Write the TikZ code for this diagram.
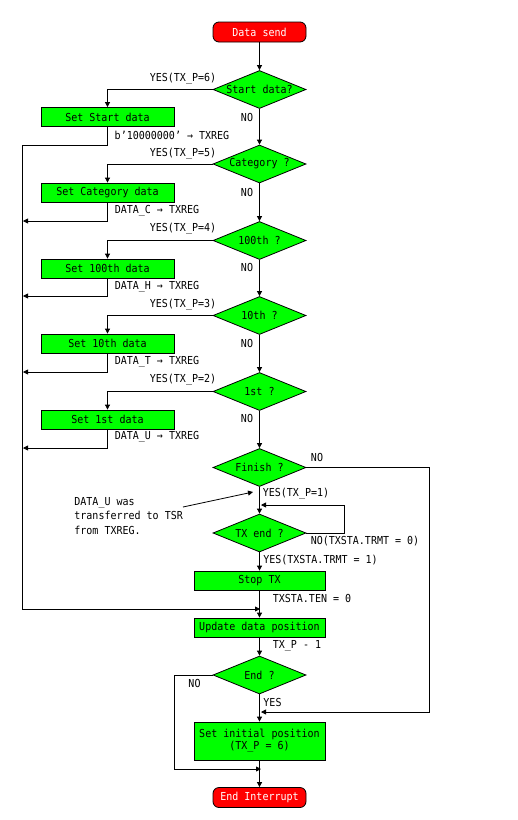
\documentclass[tikz,border=0pt]{standalone}
\usepackage{fontspec}
\setmonofont[FakeStretch=0.91]{DejaVu Sans Mono}
\usetikzlibrary{shapes.geometric,arrows.meta}
\definecolor{grn}{HTML}{00FF00}
\definecolor{rd}{HTML}{FF0000}
\begin{document}
\begin{tikzpicture}[x=1pt,y=-1pt,
  font=\ttfamily\fontsize{11}{12}\selectfont,
  line width=0.8pt,
  term/.style={draw=black, fill=rd, text=white, rounded corners=6pt, minimum width=93pt, minimum height=20pt, inner sep=0pt},
  proc/.style={draw=black, fill=grn, minimum width=133pt, minimum height=19pt, inner sep=0pt},
  dec/.style={diamond, draw=black, fill=grn, aspect=2.5, minimum width=93pt, minimum height=38pt, inner sep=0pt},
  arr/.style={-{Triangle[length=5pt,width=5pt]}},
  lbl/.style={inner sep=0pt}]
\useasboundingbox (0,0) rectangle (518,820);

% nodes
\node[term] (start) at (259.5,32) {Data send};
\node[dec] (d1) at (259.5,89.5) {Start data?};
\node[proc] (p1) at (107.5,117) {Set Start data};
\node[dec] (d2) at (259.5,164) {Category ?};
\node[proc] (p2) at (107.5,192.5) {Set Category data};
\node[dec] (d3) at (259.5,240.5) {100th ?};
\node[proc] (p3) at (107.5,268.5) {Set 100th data};
\node[dec] (d4) at (259.5,315.5) {10th ?};
\node[proc] (p4) at (107.5,343.5) {Set 10th data};
\node[dec] (d5) at (259.5,391.5) {1st ?};
\node[proc] (p5) at (107.5,419.5) {Set 1st data};
\node[dec] (d6) at (259.5,467.5) {Finish ?};
\node[dec] (d7) at (259.5,533) {TX end ?};
\node[proc, minimum width=131pt] (stop) at (259.5,580.5) {Stop TX};
\node[proc, minimum width=131pt] (upd) at (259.5,627.5) {Update data position};
\node[dec] (d8) at (259.5,675) {End ?};
\node[proc, minimum width=131pt, minimum height=38pt, align=center] (init) at (259.5,741) {Set initial position\\(TX\_P = 6)};
\node[term] (endi) at (259.5,797.5) {End Interrupt};

% coordinates
\coordinate (r1) at (22,145);
\coordinate (r2) at (23,221);
\coordinate (r3) at (23,296);
\coordinate (r4) at (23,372);
\coordinate (r5) at (23,448);
\coordinate (lbot) at (22,609);
\coordinate (j1) at (260,609);
\coordinate (fr) at (429,712);
\coordinate (j2) at (261,712);
\coordinate (lp) at (344,505);
\coordinate (j3) at (261,505);
\coordinate (nl) at (174,769);
\coordinate (j4) at (261,769);
\coordinate (na) at (183,507);
\coordinate (nt) at (253,492);

% main flow
\draw[arr] (start) -- (d1);
\draw[arr] (d1) -- (d2);
\draw[arr] (d2) -- (d3);
\draw[arr] (d3) -- (d4);
\draw[arr] (d4) -- (d5);
\draw[arr] (d5) -- (d6);
\draw[arr] (d6) -- (d7);
\draw[arr] (d7) -- (stop);
\draw[arr] (stop) -- (upd);
\draw[arr] (upd) -- (d8);
\draw[arr] (d8) -- (init);
\draw[arr] (init) -- (endi);

% yes branches
\draw[arr] (d1.west) -| (p1.north);
\draw[arr] (d2.west) -| (p2.north);
\draw[arr] (d3.west) -| (p3.north);
\draw[arr] (d4.west) -| (p4.north);
\draw[arr] (d5.west) -| (p5.north);

% returns
\draw (p1.south) |- (r1);
\draw[arr] (p2.south) |- (r2);
\draw[arr] (p3.south) |- (r3);
\draw[arr] (p4.south) |- (r4);
\draw[arr] (p5.south) |- (r5);
\draw[arr] (r1) -- (lbot) -- (j1);

% finish NO
\draw[arr] (d6.east) -| (fr) -- (j2);
% TX end loop
\draw[arr] (d7.east) -| (lp) -- (j3);
% End NO
\draw[arr] (d8.west) -| (nl) -- (j4);

% annotation
\node[lbl, anchor=north west, align=left, font=\ttfamily\fontsize{11}{14.5}\selectfont] (note) at (74,497) {DATA\_U was\\transferred to TSR\\from TXREG.};
\draw[arr] (na) -- (nt);

% labels
\node[lbl] (y1) at (183,79) {YES(TX\_P=6)};
\node[lbl] (n1) at (247,117) {NO};
\node[lbl] (t1) at (172,135) {b’10000000’ → TXREG};
\node[lbl] (y2) at (183,154) {YES(TX\_P=5)};
\node[lbl] (n2) at (247,192) {NO};
\node[lbl] (t2) at (157,211) {DATA\_C → TXREG};
\node[lbl] (y3) at (183,229) {YES(TX\_P=4)};
\node[lbl] (n3) at (247,267) {NO};
\node[lbl] (t3) at (157,287) {DATA\_H → TXREG};
\node[lbl] (y4) at (183,305) {YES(TX\_P=3)};
\node[lbl] (n4) at (247,343) {NO};
\node[lbl] (t4) at (157,362) {DATA\_T → TXREG};
\node[lbl] (y5) at (183,380) {YES(TX\_P=2)};
\node[lbl] (n5) at (247,418) {NO};
\node[lbl] (t5) at (157,437) {DATA\_U → TXREG};
\node[lbl] (n6) at (317,457) {NO};
\node[lbl] (y6) at (296,494) {YES(TX\_P=1)};
\node[lbl] (n7) at (365,541) {NO(TXSTA.TRMT = 0)};
\node[lbl] (y7) at (320.5,560) {YES(TXSTA.TRMT = 1)};
\node[lbl] (t6) at (312,598) {TXSTA.TEN = 0};
\node[lbl] (t7) at (297,646) {TX\_P - 1};
\node[lbl] (n8) at (194.5,683) {NO};
\node[lbl] (y8) at (272.5,702) {YES};
\end{tikzpicture}
\end{document}
